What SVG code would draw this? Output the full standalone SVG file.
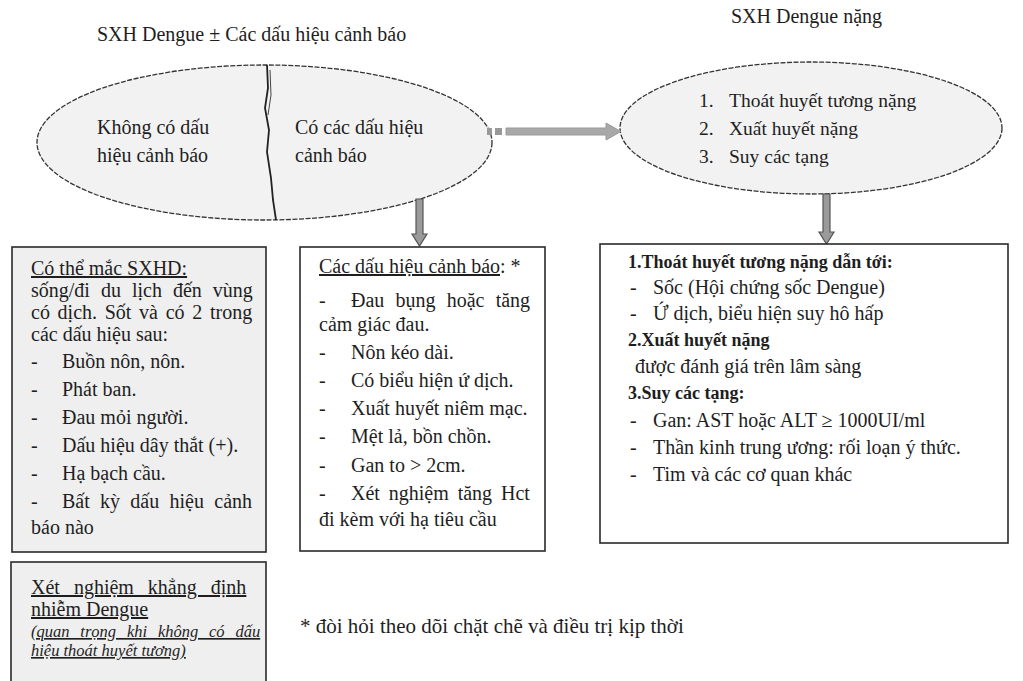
<svg xmlns="http://www.w3.org/2000/svg" width="1023" height="681" viewBox="0 0 1023 681">
<style>
text{font-family:"Liberation Serif","Times New Roman",serif;fill:#1e1e1e;}
.t{font-size:20px;}
.b{font-size:20px;}
.e{font-size:19.5px;}
.bd{font-size:18px;font-weight:bold;}
.it{font-size:16.5px;font-style:italic;}
.fn{font-size:21px;}
.u{text-decoration:underline;}
.box{stroke:#2a2a2a;stroke-width:1.6;}
.ell{fill:#f2f2f2;stroke:#333;stroke-width:1.3;stroke-dasharray:5 1.5;}
.arr{fill:#9a9a9a;stroke:#555;stroke-width:1.2;}
</style>
<rect width="1023" height="681" fill="#ffffff"/>

<text class="t" x="97" y="41">SXH Dengue ± Các dấu hiệu cảnh báo</text>
<text class="t" x="731" y="23">SXH Dengue nặng</text>

<g id="node-ellipse1">
<ellipse class="ell" cx="264.5" cy="142.5" rx="227.5" ry="77.5"/>
<path d="M267,65 L268,88 L265,108 L269,130 L267,152 L271,178 L273,200 L276,220" fill="none" stroke="#222" stroke-width="1.8"/>
<path d="M270,70 L271,95 L268,115" fill="none" stroke="#444" stroke-width="1"/>
<text class="b" x="97" y="134">Không có dấu</text>
<text class="b" x="97" y="162">hiệu cảnh báo</text>
<text class="b" x="295" y="134">Có các dấu hiệu</text>
<text class="b" x="295" y="162">cảnh báo</text>
</g>

<g id="node-ellipse2">
<ellipse class="ell" cx="811" cy="128" rx="191" ry="66"/>
<text class="e" x="699" y="107">1.</text><text class="e" x="729" y="107">Thoát huyết tương nặng</text>
<text class="e" x="699" y="135">2.</text><text class="e" x="729" y="135">Xuất huyết nặng</text>
<text class="e" x="699" y="163">3.</text><text class="e" x="729" y="163">Suy các tạng</text>
</g>

<g id="connectors">
<rect x="487" y="128" width="5" height="7" fill="#999"/>
<rect x="495" y="128" width="7" height="7" fill="#999"/>
<polygon points="506,128 606,128 606,123 621,131.5 606,140 606,135 506,135" fill="#a8a8a8" stroke="#999" stroke-width="1"/>
<polygon class="arr" points="416,199 423,199 423,234 427,234 419.5,246 412,234 416,234"/>
<polygon class="arr" points="823,194 830,194 830,232 834,232 826.5,244 819,232 823,232"/>
</g>

<g id="node-box1">
<rect class="box" x="12" y="247" width="254" height="305" fill="#efefef"/>
<text class="b u" x="31" y="275">Có thể mắc SXHD:</text>
<text class="b" x="31" y="297" word-spacing="6">sống/đi du lịch đến vùng</text>
<text class="b" x="31" y="319" word-spacing="2.7">có dịch. Sốt và có 2 trong</text>
<text class="b" x="31" y="341">các dấu hiệu sau:</text>
<text class="b" x="31" y="368">-</text><text class="b" x="62" y="368">Buồn nôn, nôn.</text>
<text class="b" x="31" y="396">-</text><text class="b" x="62" y="396">Phát ban.</text>
<text class="b" x="31" y="424">-</text><text class="b" x="62" y="424">Đau mỏi người.</text>
<text class="b" x="31" y="452">-</text><text class="b" x="62" y="452">Dấu hiệu dây thắt (+).</text>
<text class="b" x="31" y="480">-</text><text class="b" x="62" y="480">Hạ bạch cầu.</text>
<text class="b" x="31" y="508">-</text><text class="b" x="62" y="508" word-spacing="5.3">Bất kỳ dấu hiệu cảnh</text>
<text class="b" x="31" y="534">báo nào</text>
</g>

<g id="node-box2">
<rect class="box" x="300" y="247" width="245" height="304" fill="#ffffff"/>
<text class="b" x="319" y="273"><tspan class="u">Các dấu hiệu cảnh báo</tspan>: *</text>
<text class="b" x="319" y="307">-</text><text class="b" x="351" y="307" word-spacing="6.2">Đau bụng hoặc tăng</text>
<text class="b" x="319" y="331">cảm giác đau.</text>
<text class="b" x="319" y="359">-</text><text class="b" x="351" y="359">Nôn kéo dài.</text>
<text class="b" x="319" y="387">-</text><text class="b" x="351" y="387">Có biểu hiện ứ dịch.</text>
<text class="b" x="319" y="415">-</text><text class="b" x="351" y="415">Xuất huyết niêm mạc.</text>
<text class="b" x="319" y="443">-</text><text class="b" x="351" y="443">Mệt lả, bồn chồn.</text>
<text class="b" x="319" y="472">-</text><text class="b" x="351" y="472">Gan to &gt; 2cm.</text>
<text class="b" x="319" y="500">-</text><text class="b" x="351" y="500" word-spacing="3.9">Xét nghiệm tăng Hct</text>
<text class="b" x="319" y="526">đi kèm với hạ tiêu cầu</text>
</g>

<g id="node-box3">
<rect class="box" x="600" y="244" width="408" height="299" fill="#ffffff"/>
<text class="bd" x="628" y="268">1.Thoát huyết tương nặng dẫn tới:</text>
<text class="b" x="630" y="294">-</text><text class="b" x="653" y="294">Sốc (Hội chứng sốc Dengue)</text>
<text class="b" x="630" y="320">-</text><text class="b" x="653" y="320">Ứ dịch, biểu hiện suy hô hấp</text>
<text class="bd" x="628" y="346">2.Xuất huyết nặng</text>
<text class="b" x="635" y="373">được đánh giá trên lâm sàng</text>
<text class="bd" x="628" y="399">3.Suy các tạng:</text>
<text class="b" x="630" y="427">-</text><text class="b" x="653" y="427">Gan: AST hoặc ALT ≥ 1000UI/ml</text>
<text class="b" x="630" y="454">-</text><text class="b" x="653" y="454">Thần kinh trung ương: rối loạn ý thức.</text>
<text class="b" x="630" y="481">-</text><text class="b" x="653" y="481">Tim và các cơ quan khác</text>
</g>

<g id="node-box4">
<rect class="box" x="11" y="562" width="255" height="125" fill="#efefef"/>
<text class="b u" x="31" y="594" word-spacing="9">Xét nghiệm khẳng định</text>
<text class="b u" x="31" y="616">nhiễm Dengue</text>
<text class="it u" x="31" y="637" word-spacing="6.7">(quan trọng khi không có dấu</text>
<text class="it u" x="31" y="656">hiệu thoát huyết tương)</text>
</g>

<text class="fn" x="300" y="633">* đòi hỏi theo dõi chặt chẽ và điều trị kịp thời</text>
</svg>
